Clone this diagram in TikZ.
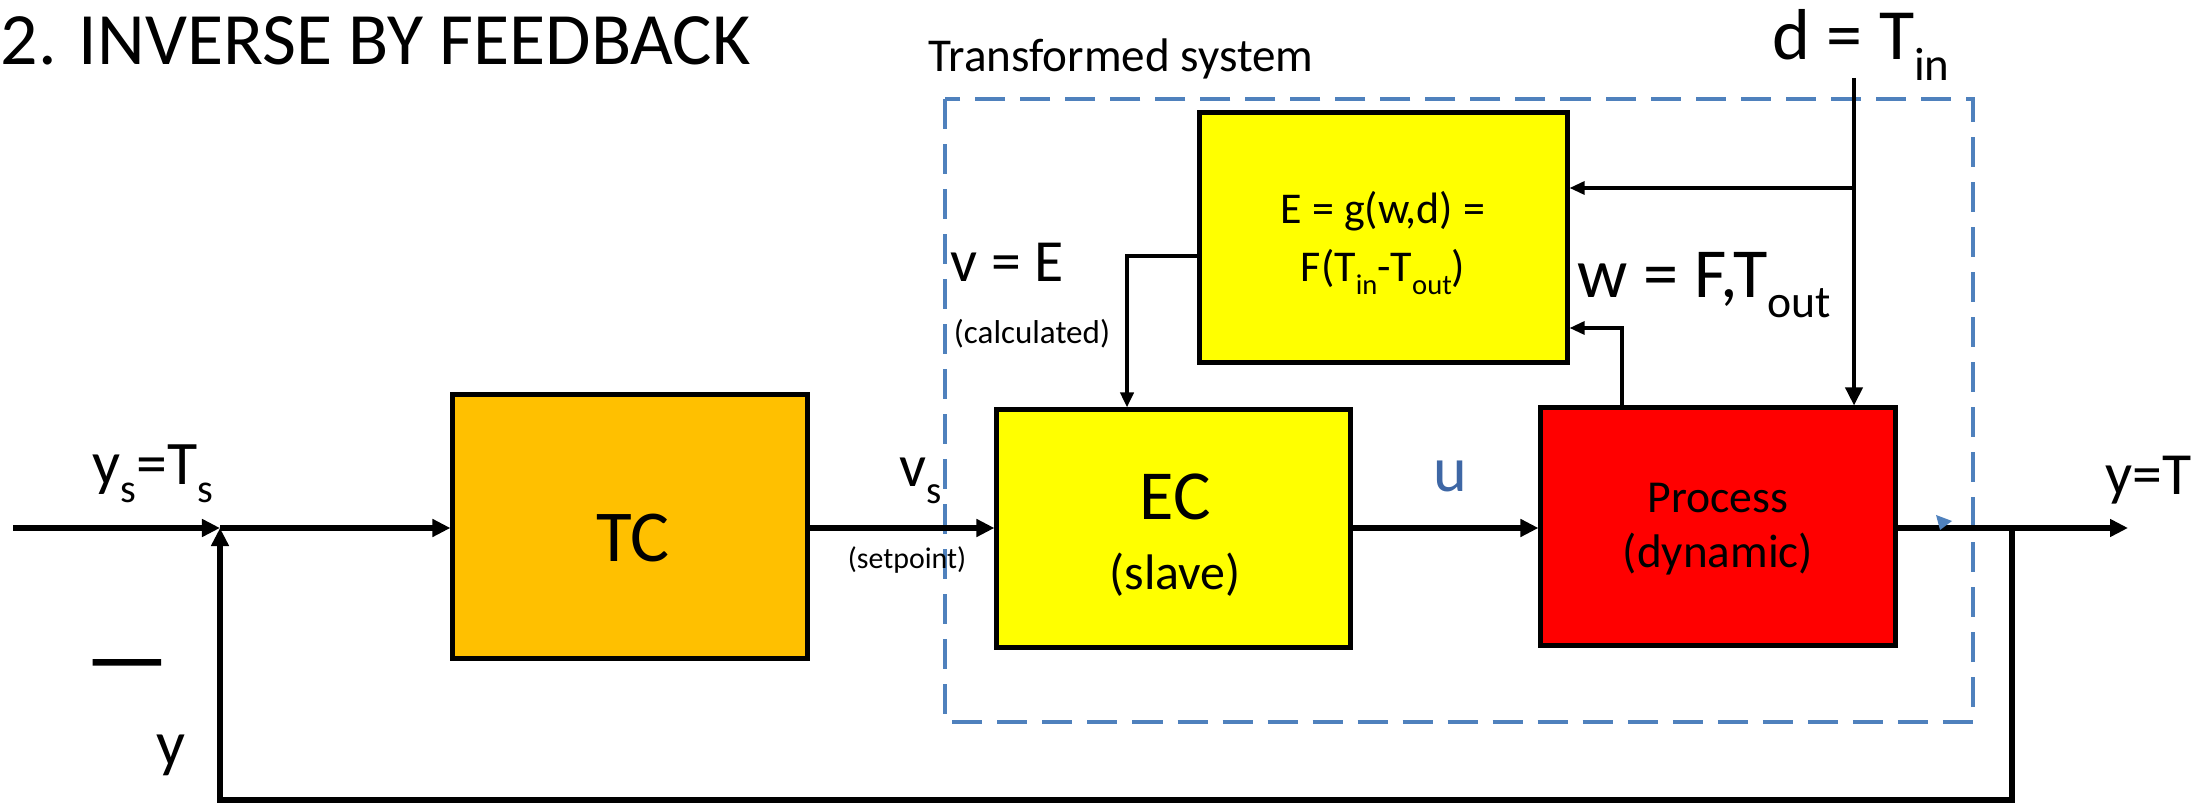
\documentclass[tikz,border=0pt]{standalone}
\usepackage{fontspec}
\setmainfont{Carlito}
\newfontfamily\heavydash[FakeBold=4]{Carlito}
\usetikzlibrary{arrows.meta}
\definecolor{tcorange}{HTML}{FFC000}
\definecolor{ecyellow}{HTML}{FFFF00}
\definecolor{procred}{HTML}{FF0000}
\definecolor{sysblue}{HTML}{4F81BD}
\definecolor{ublue}{HTML}{3E67A5}
% lowered, reduced subscript in text
\newcommand\lowsub[1]{\raisebox{-0.28em}{\scalebox{0.65}{#1}}}
\newcommand\fs[1]{\fontsize{#1}{#1}\selectfont}
\begin{document}
\begin{tikzpicture}[x=0.01cm,y=-0.01cm,
  block/.style={draw=black,line width=1.4pt,inner sep=0pt},
  conn/.style={line width=1.6pt},
  thinconn/.style={line width=0.9pt},
  arr/.style={-{Triangle[length=0.18cm,width=0.17cm]}},
  thinarr/.style={-{Triangle[length=0.15cm,width=0.13cm]}},
  lbl/.style={inner sep=0pt,anchor=base west},
  ctr/.style={inner sep=0pt,anchor=base}]
\useasboundingbox (0,0) rectangle (2207,804);

% transformed system frame
\draw[sysblue,line width=1pt,dash pattern=on 0.3cm off 0.15cm] (945,99) rectangle (1973,722);

% blocks
\node[block,fill=tcorange,minimum width=3.54cm,minimum height=2.63cm] (TC) at (630,526.5) {};
\node[block,fill=ecyellow,minimum width=3.53cm,minimum height=2.37cm] (EC) at (1173.5,528.5) {};
\node[block,fill=procred,minimum width=3.54cm,minimum height=2.37cm] (Proc) at (1718,526.5) {};
\node[block,fill=ecyellow,minimum width=3.67cm,minimum height=2.49cm] (Ebox) at (1383.5,237.5) {};

% block texts
\node[ctr,font=\fs{20.8}] (tctext) at (633,562) {TC};
\node[ctr,font=\fs{20}] (ectext) at (1175,520) {EC};
\node[ctr,font=\fs{14.2}] (slave) at (1175,590) {(slave)};
\node[ctr,font=\fs{13}] (proctext) at (1718,513) {Process};
\node[ctr,font=\fs{13.4}] (dyn) at (1718,568) {(dynamic)};
\node[ctr,font=\fs{12.5}] (gline1) at (1383,224) {E = g(w,d) =};
\node[ctr,font=\fs{12.5}] (gline2) at (1383,282) {F(T\lowsub{in}-T\lowsub{out})};

% main loop points
\coordinate (in) at (13,528);
\coordinate (sum) at (220,528);
\coordinate (out) at (2128,528);
\coordinate (br) at (2012,528);
\coordinate (fbR) at (2012,800);
\coordinate (fbL) at (220,800);

\draw[conn,arr] (in) -- (sum);
\draw[conn,arr] (sum) -- (sum -| TC.west);
\draw[conn,arr] (TC.east |- sum) -- (sum -| EC.west);
\draw[conn,arr] (EC.east |- sum) -- (sum -| Proc.west);
\draw[conn,arr] (Proc.east |- sum) -- (out);
\draw[conn,arr] (br) -- (fbR) -- (fbL) -- (sum);

% disturbance and calculation paths
\coordinate (dtop) at (1854,78);
\coordinate (dtap) at (1854,188);
\coordinate (wtap) at (1622,328);
\coordinate (vtap) at (1127,256);
\draw[line width=1.1pt,arr] (dtop) -- (dtop |- Proc.north);
\draw[thinconn,thinarr] (dtap) -- (dtap -| Ebox.east);
\draw[thinconn,thinarr] (wtap |- Proc.north) -- (wtap) -- (wtap -| Ebox.east);
\draw[line width=1.1pt,thinarr] (vtap -| Ebox.west) -- (vtap) -- (vtap |- EC.north);

% small marker on the output line
\fill[sysblue] (1936,515) -- (1952,521) -- (1940,530) -- cycle;

% labels
\node[lbl,font=\fs{21}] (title) at (0,65) {2. INVERSE BY FEEDBACK};
\node[lbl,font=\fs{13.4}] (tsys) at (928,72) {Transformed system};
\node[lbl,font=\fs{20.5}] (dlbl) at (1772,60) {d = T\lowsub{in}};
\node[lbl,font=\fs{17.6}] (yslbl) at (92,485) {y\lowsub{s}=T\lowsub{s}};
\node[lbl,font=\fs{17}] (vslbl) at (899,487) {v\lowsub{s}};
\node[inner sep=0pt,font=\fs{8.5}] (setp) at (907,560) {(setpoint)};
\node[lbl,font=\heavydash\fs{18}] (minus) at (86,680) {\scalebox{1.4}[1]{—}};
\node[lbl,font=\fs{18.2}] (ylbl) at (156,765) {y};
\node[lbl,font=\fs{17}] (velbl) at (950,282) {v = E};
\node[inner sep=0pt,font=\fs{9.4}] (calc) at (1032,334) {(calculated)};
\node[lbl,font=\fs{20}] (wlbl) at (1577,298) {w = F,T\lowsub{out}};
\node[ctr,font=\fs{18.2},text=ublue] (ulbl) at (1450,492) {u};
\node[lbl,font=\fs{17}] (ytlbl) at (2105,495) {y=T};
\end{tikzpicture}
\end{document}
